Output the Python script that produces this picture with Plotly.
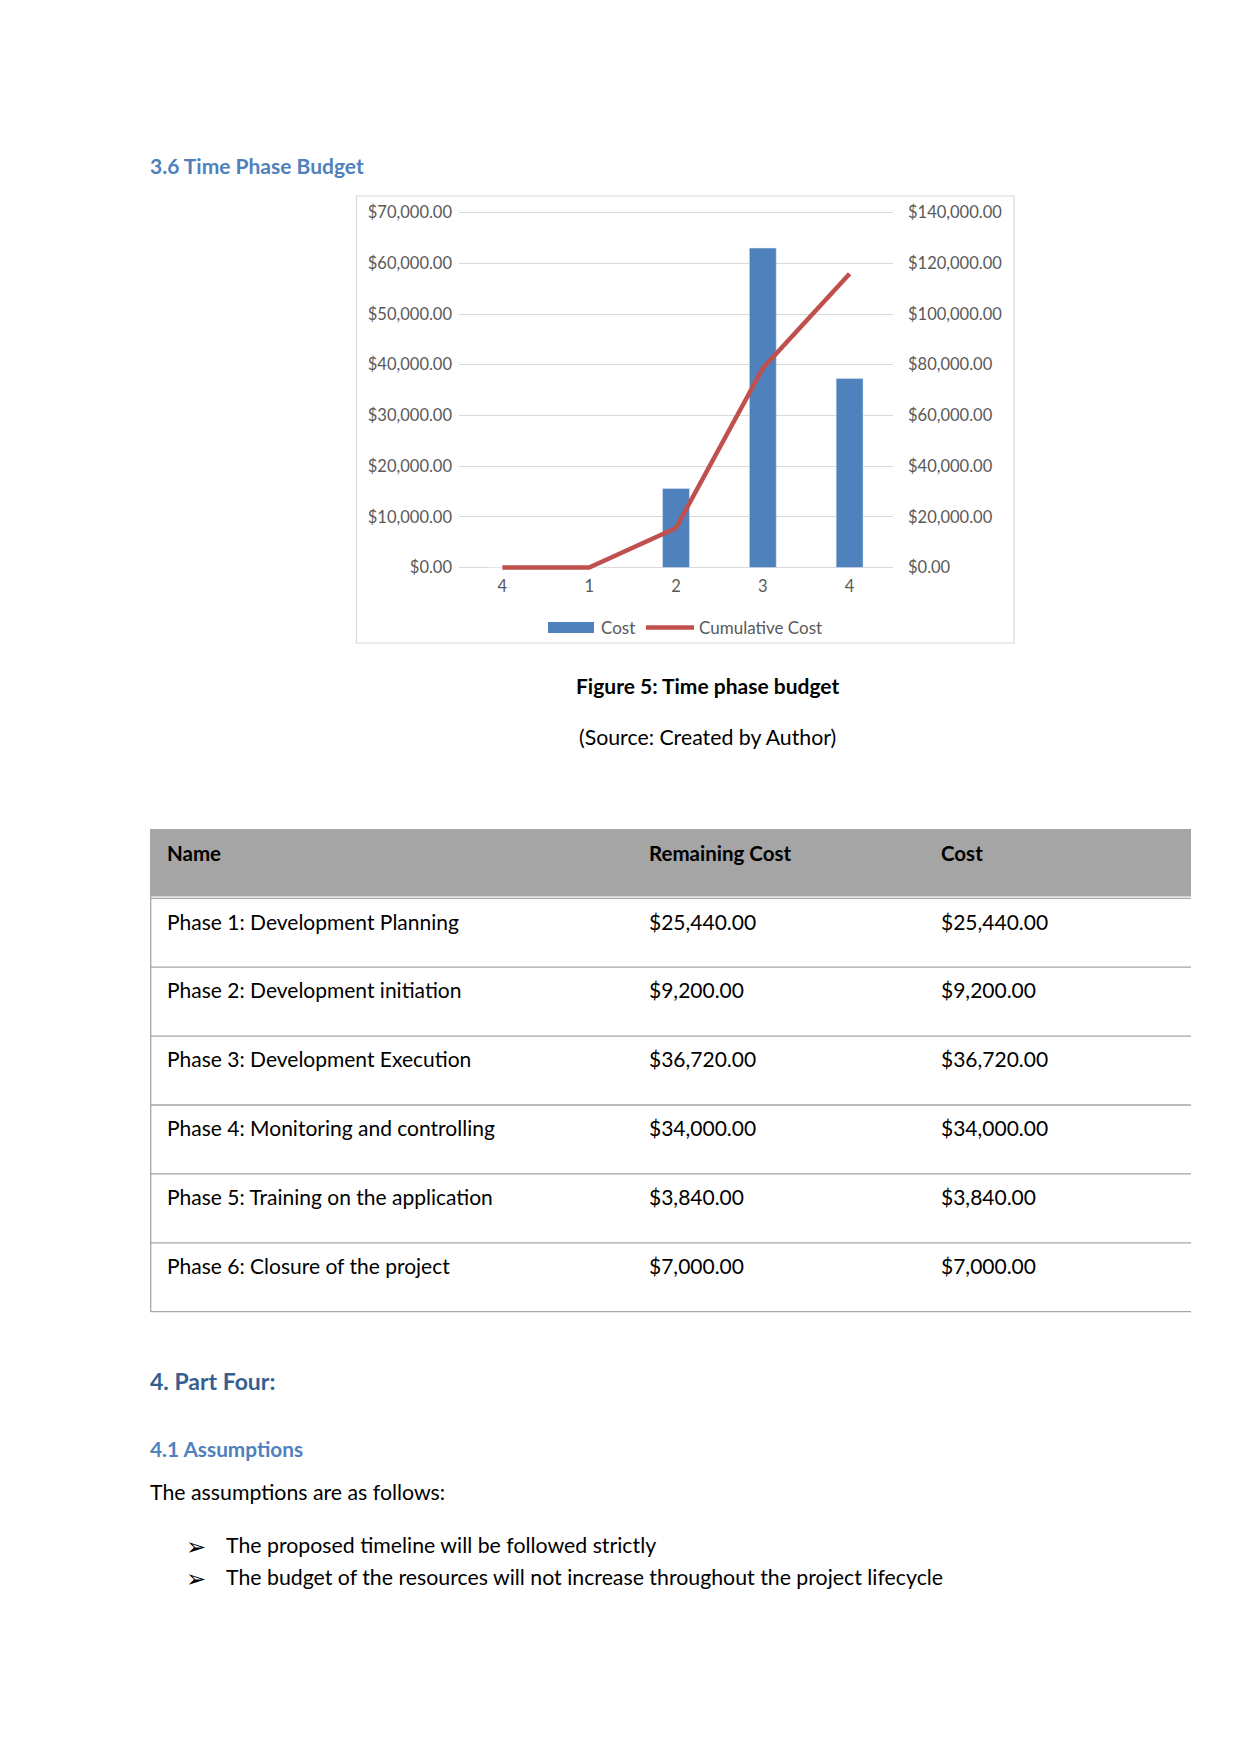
import plotly.graph_objects as go

# ---------------- data ----------------
tick_labels = ["4", "1", "2", "3", "4"]
cost = [0, 0, 15600, 63000, 37300]
cumulative_cost = [0, 0, 15600, 78600, 115900]

table_header = ["Name", "Remaining Cost", "Cost"]
phase_names = [
    "Phase 1: Development Planning",
    "Phase 2: Development initiation",
    "Phase 3: Development Execution",
    "Phase 4: Monitoring and controlling",
    "Phase 5: Training on the application",
    "Phase 6: Closure of the project",
]
remaining_cost = ["$25,440.00", "$9,200.00", "$36,720.00", "$34,000.00", "$3,840.00", "$7,000.00"]
phase_cost = ["$25,440.00", "$9,200.00", "$36,720.00", "$34,000.00", "$3,840.00", "$7,000.00"]
assumptions = [
    "The proposed timeline will be followed strictly",
    "The budget of the resources will not increase throughout the project lifecycle",
]
left_ticks = [0, 10000, 20000, 30000, 40000, 50000, 60000, 70000]
right_ticks = [0, 20000, 40000, 60000, 80000, 100000, 120000, 140000]

# ---------------- layout helpers ----------------
PAGE_W, PAGE_H = 1241, 1754
OX, OY = 8, 8                      # default body margin of the html page
W, H = PAGE_W - 2 * OX, PAGE_H - 2 * OY
FONT = "Lato"
BLUE = "#4F81BD"
RED = "#C0504D"


def px(x):
    return (x - OX) / W


def py(y):
    return 1 - (y - OY) / H


xs = list(range(len(tick_labels)))

fig = go.Figure()
fig.add_trace(go.Bar(x=xs, y=cost, name="Cost", marker_color=BLUE,
                     width=0.31, yaxis="y", showlegend=False))
fig.add_trace(go.Scatter(x=xs, y=cumulative_cost, name="Cumulative Cost",
                         mode="lines", line=dict(color=RED, width=4.5),
                         yaxis="y2", showlegend=False))

plot_left, plot_right = 459, 893
y_max_px, y_zero_px = 212.6, 567.5          # pixel rows of $70,000 and $0
pad_frac = 0.02                             # small padding so edge gridlines are drawn
span_px = y_zero_px - y_max_px
plot_top = y_max_px - pad_frac * span_px
plot_bottom = y_zero_px + pad_frac * span_px
lmax, rmax = left_ticks[-1], right_ticks[-1]

tickfont = dict(family=FONT, size=16.5, color="#595959")

fig.update_layout(
    width=W, height=H,
    margin=dict(l=0, r=0, t=0, b=0, autoexpand=False),
    paper_bgcolor="white", plot_bgcolor="white",
    xaxis=dict(domain=[px(plot_left), px(plot_right)], range=[-0.5, 4.5],
               tickvals=xs, ticktext=tick_labels, tickfont=tickfont,
               showgrid=False, zeroline=False, showline=False, ticks="",
               ticklabelstandoff=0, fixedrange=True,
               automargin=False),
    yaxis=dict(domain=[py(plot_bottom), py(plot_top)],
               range=[-pad_frac * lmax, lmax * (1 + pad_frac)],
               tickvals=left_ticks, tickformat="$,.2f", tickfont=tickfont,
               showgrid=True, gridcolor="#D9D9D9", gridwidth=1,
               zeroline=False, showline=False, ticks="",
               ticklabelstandoff=6, automargin=False),
    yaxis2=dict(overlaying="y", side="right",
                range=[-pad_frac * rmax, rmax * (1 + pad_frac)],
                tickvals=right_ticks, tickformat="$,.2f", tickfont=tickfont,
                showgrid=False, zeroline=False, showline=False, ticks="",
                ticklabelstandoff=14, automargin=False),
    bargap=0.69,
    showlegend=False,
)

shapes = []
annotations = []

# chart border
shapes.append(dict(type="rect", xref="paper", yref="paper",
                   x0=px(356.5), x1=px(1014), y0=py(643), y1=py(196),
                   line=dict(color="#D9D9D9", width=1.2), fillcolor="rgba(0,0,0,0)",
                   layer="below"))

# manual legend
leg_y = 627.5
shapes.append(dict(type="rect", xref="paper", yref="paper",
                   x0=px(548), x1=px(594), y0=py(633), y1=py(622),
                   line=dict(width=0), fillcolor=BLUE))
shapes.append(dict(type="line", xref="paper", yref="paper",
                   x0=px(646), x1=px(694), y0=py(leg_y), y1=py(leg_y),
                   line=dict(color=RED, width=4.5)))
legfont = dict(family=FONT, size=17, color="#595959")
annotations.append(dict(text="Cost", x=px(599), y=py(leg_y), xref="paper", yref="paper",
                        xanchor="left", yanchor="middle", showarrow=False, font=legfont))
annotations.append(dict(text="Cumulative Cost", x=px(697), y=py(leg_y), xref="paper", yref="paper",
                        xanchor="left", yanchor="middle", showarrow=False, font=legfont))


def text(t, x, y, size=21, color="black", bold=False, anchor="left"):
    s = f"<b>{t}</b>" if bold else t
    annotations.append(dict(text=s, x=px(x), y=py(y), xref="paper", yref="paper",
                            xanchor=anchor, yanchor="middle", showarrow=False,
                            font=dict(family=FONT, size=size, color=color)))


# headings / captions
text("3.6 Time Phase Budget", 148, 165, size=21, color=BLUE, bold=True)
text("Figure 5: Time phase budget", 707, 685, size=21, bold=True, anchor="center")
text("(Source: Created by Author)", 707, 737, size=21.3, anchor="center")

# table
tbl_left, tbl_right = 150.7, 1191
hdr_top, hdr_bottom = 829, 896.5
row_h = 68.9
shapes.append(dict(type="rect", xref="paper", yref="paper",
                   x0=px(tbl_left), x1=px(tbl_right), y0=py(hdr_bottom), y1=py(hdr_top),
                   line=dict(width=0), fillcolor="#A5A5A5", layer="below"))
line_col = "#A6A6A6"
row_top0 = 898.3
table_bottom = row_top0 + row_h * len(phase_names)
# left border
shapes.append(dict(type="line", xref="paper", yref="paper",
                   x0=px(tbl_left), x1=px(tbl_left), y0=py(hdr_top), y1=py(table_bottom),
                   line=dict(color=line_col, width=1.3)))
for i in range(len(phase_names) + 1):
    yy = row_top0 + row_h * i
    shapes.append(dict(type="line", xref="paper", yref="paper",
                       x0=px(tbl_left), x1=px(tbl_right), y0=py(yy), y1=py(yy),
                       line=dict(color=line_col, width=1.3)))

col_x = [165, 647, 939]
for cx, h in zip(col_x, table_header):
    text(h, cx, 853, size=20.5, bold=True)
for i, (n, r, c) in enumerate(zip(phase_names, remaining_cost, phase_cost)):
    yy = 921 + row_h * i
    text(n, col_x[0], yy)
    text(r, col_x[1], yy)
    text(c, col_x[2], yy)

# part four
text("4. Part Four:", 148, 1381, size=23, color="#365F91", bold=True)
text("4.1 Assumptions", 148, 1448, size=20.8, color=BLUE, bold=True)
text("The assumptions are as follows:", 148, 1492, size=21.3)
for i, a in enumerate(assumptions):
    yy = 1545 + 32 * i
    text("\u27a2", 196, yy, size=24, anchor="center")
    text(a, 224, yy, size=21.3)

fig.update_layout(shapes=shapes, annotations=annotations)
fig.write_html("out.html")
